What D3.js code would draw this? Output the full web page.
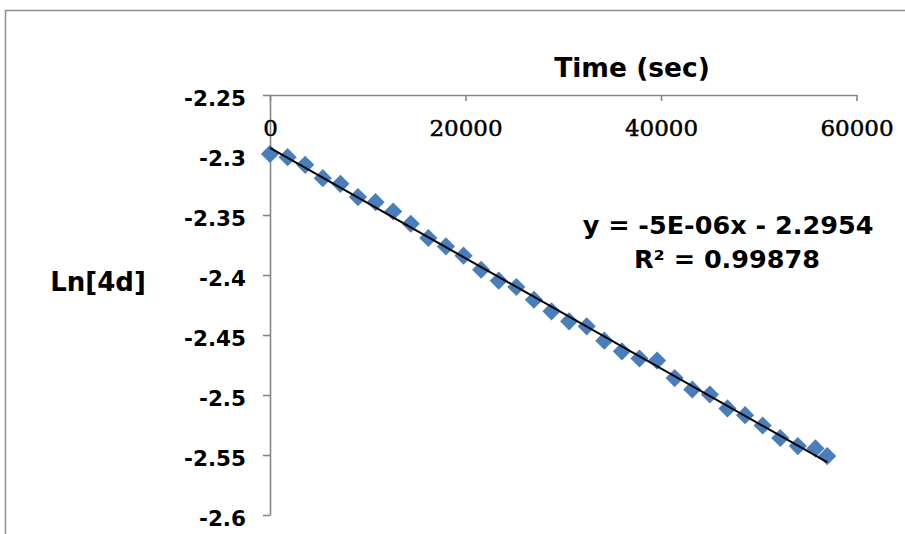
<!DOCTYPE html>
<html>
<head>
<meta charset="utf-8">
<script src="https://cdn.jsdelivr.net/npm/d3@7"></script>
<style>
  html, body { margin: 0; padding: 0; background: #fff; }
  svg { display: block; }
</style>
</head>
<body>
<svg id="chart" width="905" height="534"></svg>
<script>
// ---- data ----
const times = [0, 1800, 3600, 5400, 7200, 9000, 10800, 12600, 14400, 16200, 18000, 19800,
  21600, 23400, 25200, 27000, 28800, 30600, 32400, 34200, 36000, 37800, 39600, 41400,
  43200, 45000, 46800, 48600, 50400, 52200, 54000, 55800, 57000];
const lnValues = [-2.2991, -2.3018, -2.3082, -2.3193, -2.3240, -2.3351, -2.3393, -2.3471,
  -2.3573, -2.3692, -2.3762, -2.3839, -2.3956, -2.4047, -2.4100, -2.4206, -2.4303, -2.4386,
  -2.4428, -2.4547, -2.4636, -2.4696, -2.4713, -2.4859, -2.4954, -2.4996, -2.5112, -2.5168,
  -2.5254, -2.5358, -2.5426, -2.5445, -2.5509];
const xTicks = [0, 20000, 40000, 60000];
const yTicks = [-2.25, -2.3, -2.35, -2.4, -2.45, -2.5, -2.55, -2.6];
const xTitle = "Time (sec)";
const yTitle = "Ln[4d]";
const eqLine = "y = -5E-06x - 2.2954";
const r2Line = "R² = 0.99878";

// ---- drawing ----
const svg = d3.select("#chart");
const sans = "'DejaVu Sans', sans-serif";
const serif = "'DejaVu Serif', serif";
const axisColor = "#868686";

// chart frame
svg.append("rect")
  .attr("x", 5.5).attr("y", 10.5).attr("width", 920).attr("height", 540)
  .attr("fill", "none").attr("stroke", "#8e8e8e").attr("stroke-width", 1.5);

const x = d3.scaleLinear().domain([0, 60000]).range([270, 856.5]);
const y = d3.scaleLinear().domain([-2.25, -2.6]).range([95, 515]);

// y axis
const yAxis = svg.append("g")
  .attr("transform", `translate(${x(0)},0)`)
  .call(d3.axisLeft(y).tickValues(yTicks).tickSize(7).tickSizeOuter(0).tickPadding(17)
    .tickFormat(d => String(d)));
yAxis.select(".domain").attr("stroke", axisColor).attr("stroke-width", 1.6);
yAxis.selectAll(".tick line").attr("stroke", axisColor).attr("stroke-width", 1.6);
yAxis.selectAll(".tick text")
  .attr("dy", "10px")
  .attr("fill", "#000")
  .style("font-family", sans).style("font-weight", "bold").style("font-size", "21.5px");

// x axis (at top, ticks pointing down)
const xAxis = svg.append("g")
  .attr("transform", `translate(0,${y(-2.25)})`)
  .call(d3.axisBottom(x).tickValues(xTicks).tickSize(6).tickSizeOuter(0)
    .tickFormat(d => String(d)));
xAxis.select(".domain").attr("stroke", axisColor).attr("stroke-width", 1.6);
xAxis.selectAll(".tick line").attr("stroke", axisColor).attr("stroke-width", 1.6);
xAxis.selectAll(".tick text")
  .attr("y", 41).attr("dy", "0")
  .attr("fill", "#000").attr("stroke", "#000").attr("stroke-width", 0.5)
  .style("font-family", serif).style("font-size", "23px");

// trend line (least squares from the data)
const n = times.length;
const mx = d3.mean(times), my = d3.mean(lnValues);
let sxy = 0, sxx = 0;
for (let i = 0; i < n; i++) { sxy += (times[i] - mx) * (lnValues[i] - my); sxx += (times[i] - mx) ** 2; }
const slope = sxy / sxx, intercept = my - slope * mx;
const tMin = d3.min(times), tMax = d3.max(times);

// points
const diamond = d3.symbol().type(d3.symbolSquare).size(165)();
svg.append("g").selectAll("path")
  .data(times.map((t, i) => [t, lnValues[i]]))
  .join("path")
  .attr("d", diamond)
  .attr("transform", d => `translate(${x(d[0])},${y(d[1])}) rotate(45)`)
  .attr("fill", "#4a7ebb");

svg.append("line")
  .attr("x1", x(tMin)).attr("y1", y(intercept + slope * tMin))
  .attr("x2", x(tMax)).attr("y2", y(intercept + slope * tMax))
  .attr("stroke", "#000").attr("stroke-width", 2);

// titles
svg.append("text").text(xTitle)
  .attr("x", 632).attr("y", 77).attr("text-anchor", "middle")
  .style("font-family", sans).style("font-weight", "bold").style("font-size", "26.5px");
svg.append("text").text(yTitle)
  .attr("x", 98).attr("y", 291).attr("text-anchor", "middle")
  .style("font-family", sans).style("font-weight", "bold").style("font-size", "26px");

// equation
svg.append("text").text(eqLine)
  .attr("x", 728).attr("y", 234).attr("text-anchor", "middle")
  .style("font-family", sans).style("font-weight", "bold").style("font-size", "25.5px");
svg.append("text").text(r2Line)
  .attr("x", 727).attr("y", 268).attr("text-anchor", "middle")
  .style("font-family", sans).style("font-weight", "bold").style("font-size", "25.5px");
</script>
</body>
</html>
